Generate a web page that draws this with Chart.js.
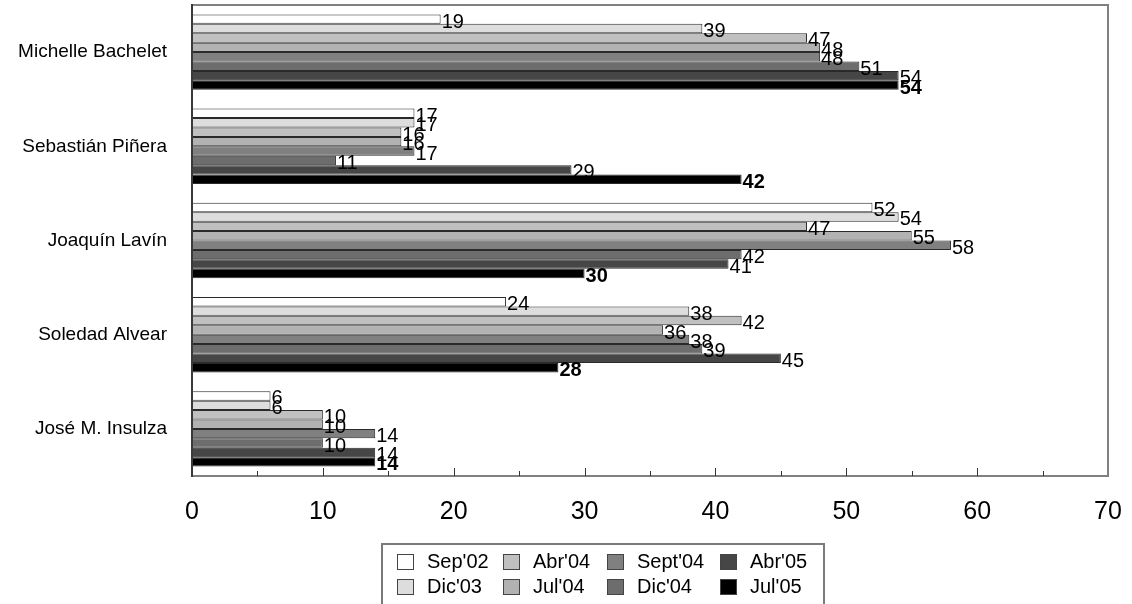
<!DOCTYPE html>
<html>
<head>
<meta charset="utf-8">
<script src="https://cdn.jsdelivr.net/npm/chart.js@4"></script>
<style>
  html, body { margin: 0; padding: 0; background: #fff; overflow: hidden; }
  #wrap { position: relative; width: 1132px; height: 604px; }
  #leyenda {
    position: absolute; left: 381px; top: 543px; width: 444px; height: 80px;
    border: 2px solid #7a7a7a; border-bottom: none; box-sizing: border-box;
    display: grid; grid-template-columns: 106px 104px 113px 110px;
    grid-template-rows: 25px 25px; grid-auto-flow: column;
    padding: 4px 0 0 14px;
    font-family: "Liberation Sans", Arial, sans-serif; font-size: 20px; color: #000;
  }
  #leyenda .item { display: flex; align-items: center; white-space: nowrap; }
  #leyenda .caja { width: 17px; height: 16px; border: 1px solid #444; box-sizing: border-box; margin-right: 13px; }
</style>
</head>
<body>
<div id="wrap">
  <canvas id="myChart" width="1132" height="604"></canvas>
  <div id="leyenda"></div>
</div>
<script>
const candidatos = ['Michelle Bachelet', 'Sebastián Piñera', 'Joaquín Lavín', 'Soledad Alvear', 'José M. Insulza'];
const fechas = ["Sep'02", "Dic'03", "Abr'04", "Jul'04", "Sept'04", "Dic'04", "Abr'05", "Jul'05"];
const colores = ['#ffffff', '#dddddd', '#c0c0c0', '#b2b2b2', '#808080', '#6d6d6d', '#464646', '#000000'];

// un arreglo por medición, en el orden de los candidatos
const sep02 = [19, 17, 52, 24, 6];
const dic03 = [39, 17, 54, 38, 6];
const abr04 = [47, 16, 47, 42, 10];
const jul04 = [48, 16, 55, 36, 10];
const sept04 = [48, 17, 58, 38, 14];
const dic04 = [51, 11, 42, 39, 10];
const abr05 = [54, 29, 41, 45, 14];
const jul05 = [54, 42, 30, 28, 14];
const series = [sep02, dic03, abr04, jul04, sept04, dic04, abr05, jul05];

const ticksX = [0, 10, 20, 30, 40, 50, 60, 70];

const fuente = '"Liberation Sans", Arial, sans-serif';

// numeros al final de cada barra
const etiquetas = {
  id: 'etiquetas',
  afterDatasetsDraw(chart) {
    const ctx = chart.ctx;
    ctx.save();
    ctx.textAlign = 'left';
    ctx.textBaseline = 'middle';
    ctx.fillStyle = '#000';
    chart.data.datasets.forEach((ds, i) => {
      const meta = chart.getDatasetMeta(i);
      ctx.font = (i === series.length - 1 ? 'bold ' : '') + '20px ' + fuente;
      meta.data.forEach((bar, j) => {
        ctx.fillText(ds.data[j], bar.x + 1, bar.y + 3);
      });
    });
    ctx.restore();
  }
};

// marco del grafico y marcas hacia adentro
const marco = {
  id: 'marco',
  afterDraw(chart) {
    const ctx = chart.ctx;
    const a = chart.chartArea;
    const x = chart.scales.x;
    ctx.save();
    ctx.strokeStyle = '#808080';
    ctx.lineWidth = 2;
    ctx.beginPath();
    ctx.moveTo(a.left, a.top); ctx.lineTo(a.right, a.top); ctx.lineTo(a.right, a.bottom); ctx.lineTo(a.left, a.bottom);
    ctx.stroke();
    ctx.lineWidth = 1;
    ctx.strokeStyle = '#333';
    for (let v = 5; v < 70; v += 5) {
      const px = Math.round(x.getPixelForValue(v)) + 0.5;
      const largo = v % 10 === 0 ? 8 : 5;
      ctx.beginPath();
      ctx.moveTo(px, a.bottom);
      ctx.lineTo(px, a.bottom - largo);
      ctx.stroke();
    }
    ctx.strokeStyle = '#3a3a3a';
    ctx.lineWidth = 2;
    ctx.beginPath();
    ctx.moveTo(a.left, a.top - 1); ctx.lineTo(a.left, a.bottom + 1);
    ctx.stroke();
    ctx.restore();
  }
};

// sin relleno extra por las etiquetas de los ejes
function sinRelleno(s) {
  s.paddingLeft = 0;
  s.paddingRight = 0;
  s.paddingTop = 0;
  s.paddingBottom = 0;
}

const chart = new Chart(document.getElementById('myChart'), {
  type: 'bar',
  data: {
    labels: candidatos,
    datasets: fechas.map((f, i) => ({
      label: f,
      data: series[i],
      backgroundColor: colores[i],
      borderColor: '#2a2a2a',
      borderWidth: 1,
      borderSkipped: 'start',
      categoryPercentage: 0.8,
      barPercentage: 1.0
    }))
  },
  options: {
    indexAxis: 'y',
    responsive: false,
    animation: false,
    layout: { padding: { top: 5, right: 24, left: 0, bottom: 0 } },
    plugins: {
      legend: { display: false },
      tooltip: { enabled: false }
    },
    scales: {
      x: {
        min: 0,
        max: 70,
        afterBuildTicks: s => { s.ticks = ticksX.map(v => ({ value: v })); },
        afterFit: s => { s.height = 128; sinRelleno(s); },
        grid: { display: false, drawTicks: false },
        border: { display: false },
        ticks: { padding: 21, color: '#000', font: { family: fuente, size: 25 } }
      },
      y: {
        afterFit: s => { s.width = 192; sinRelleno(s); },
        grid: { display: false, drawTicks: false },
        border: { display: false },
        ticks: { padding: 25, color: '#000', font: { family: fuente, size: 19 } }
      }
    }
  },
  plugins: [etiquetas, marco]
});

// leyenda en dos filas, llenada por columnas
const leyenda = document.getElementById('leyenda');
chart.data.datasets.forEach(ds => {
  const item = document.createElement('div');
  item.className = 'item';
  item.innerHTML = '<span class="caja" style="background:' + ds.backgroundColor + '"></span>' + ds.label;
  leyenda.appendChild(item);
});
</script>
</body>
</html>
